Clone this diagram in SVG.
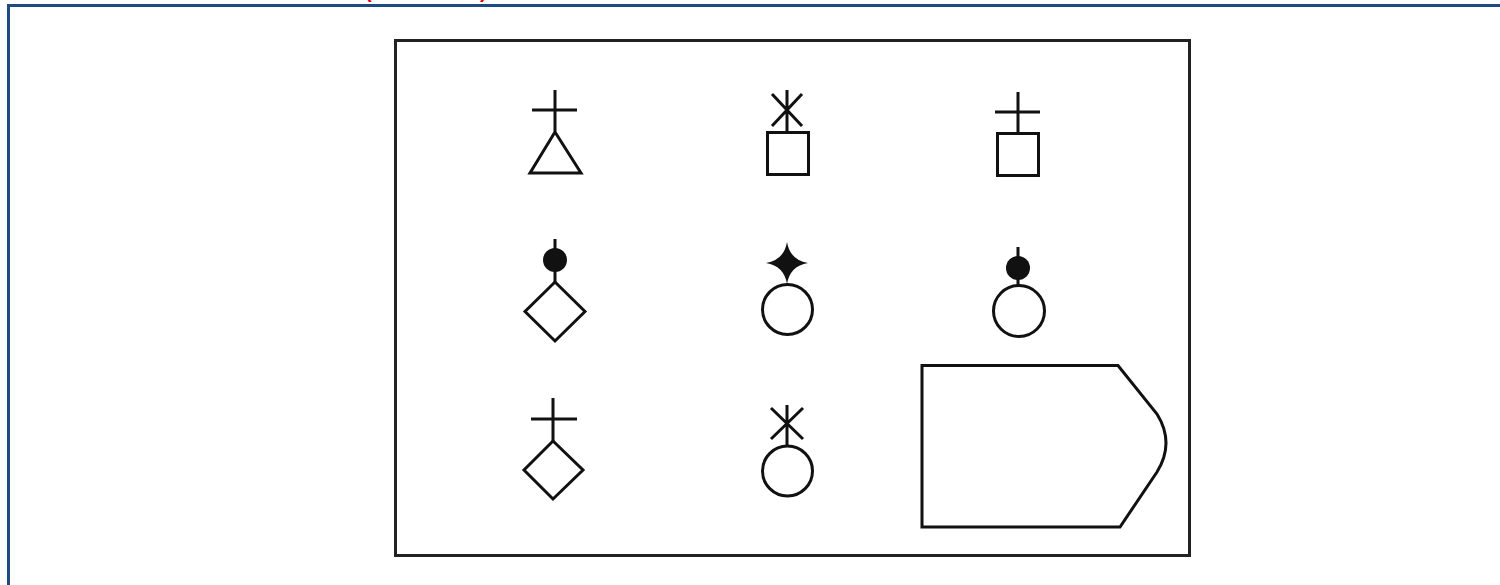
<svg xmlns="http://www.w3.org/2000/svg" width="1500" height="585" viewBox="0 0 1500 585">
  <style>
    .sym { fill: none; stroke: #111; stroke-width: 3; stroke-linejoin: miter; stroke-linecap: butt; }
    .dot { fill: #111; stroke: none; }
    .frame { fill: #fff; stroke: #1f4b80; stroke-width: 3; }
    .panel { fill: #fff; stroke: #222; stroke-width: 3; }
    .red { fill: #d40000; font-family: "Liberation Sans", Arial, sans-serif; font-size: 20px; font-weight: bold; }
  </style>
  <rect x="0" y="0" width="1500" height="585" fill="#fff"/>
  <rect class="frame" x="8.5" y="5.5" width="1500" height="600"/>
  <text class="red" x="365" y="-2.5">(</text>
  <text class="red" x="480" y="-2.5">)</text>
  <g id="panel">
    <rect class="panel" x="395.5" y="40.5" width="794" height="515"/>
  </g>
  <g id="connectors"></g>
  <g id="sym-triangle-cross">
    <path class="sym" d="M555,90 V132 M532,110 H577 M555,132 L530,173 H581 Z"/>
  </g>
  <g id="sym-square-asterisk">
    <path class="sym" d="M787,90 V132 M772,94 L802,126 M802,94 L772,126"/>
    <rect class="sym" x="767.5" y="132.5" width="41" height="42"/>
  </g>
  <g id="sym-square-cross">
    <path class="sym" d="M1018,92 V133 M995,112 H1040"/>
    <rect class="sym" x="997.5" y="133.5" width="41" height="42"/>
  </g>
  <g id="sym-diamond-dot">
    <path class="sym" d="M555,239 V282"/>
    <circle class="dot" cx="555" cy="260" r="12"/>
    <path class="sym" d="M555,282 L585,311.5 L555,341 L525,311.5 Z"/>
  </g>
  <g id="sym-circle-star">
    <path class="dot" d="M787,242 Q790,260 808,263 Q790,266 787,284 Q784,266 766,263 Q784,260 787,242 Z"/>
    <circle class="sym" cx="787.5" cy="309.5" r="25"/>
  </g>
  <g id="sym-circle-dot">
    <path class="sym" d="M1018,247 V285"/>
    <circle class="dot" cx="1018" cy="268" r="12"/>
    <circle class="sym" cx="1019" cy="311" r="25.5"/>
  </g>
  <g id="sym-diamond-cross">
    <path class="sym" d="M553,398 V441 M531,419 H577"/>
    <path class="sym" d="M553,441 L583,470 L553,499 L524,470 Z"/>
  </g>
  <g id="sym-circle-asterisk">
    <path class="sym" d="M787,405 V446 M771,408 L803,439 M803,408 L771,439"/>
    <circle class="sym" cx="787.5" cy="471" r="25"/>
  </g>
  <g id="sym-display">
    <path class="sym" d="M922,365.5 H1118 L1157,414 Q1175,443 1157,472 L1120,527 H922 Z"/>
  </g>
</svg>
